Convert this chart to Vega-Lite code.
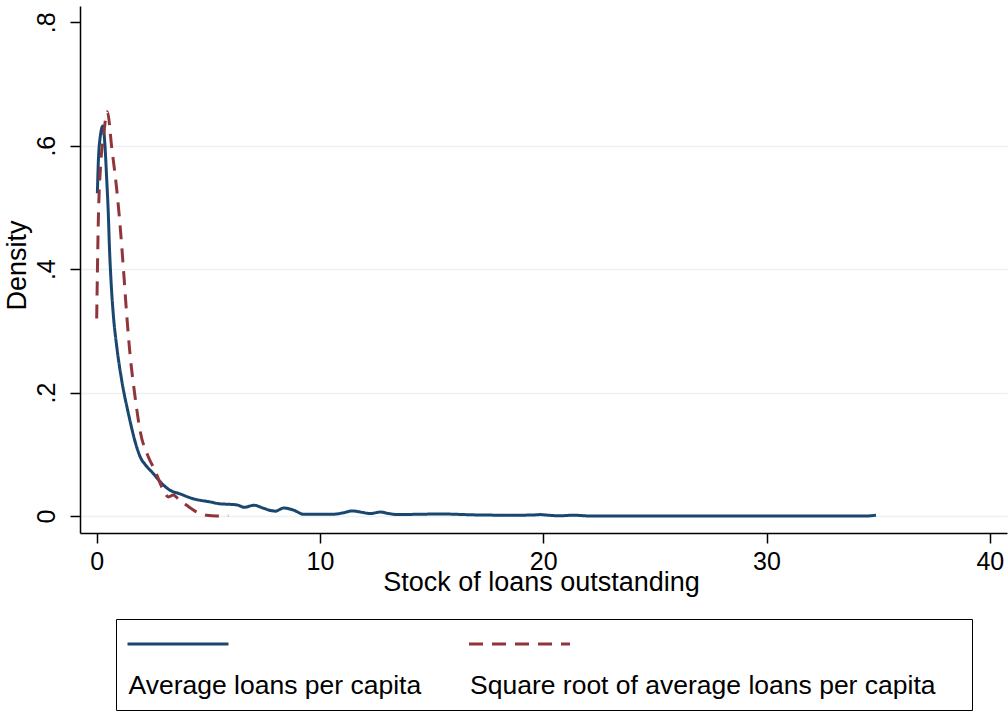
{
  "$schema": "https://vega.github.io/schema/vega-lite/v6.json",
  "width": 927,
  "height": 527,
  "autosize": {"type": "none"},
  "padding": {"left": 80, "top": 6, "right": 1, "bottom": 180},
  "background": "white",
  "config": {
    "font": "Liberation Sans",
    "view": {"stroke": null},
    "axis": {
      "domainColor": "black",
      "domainWidth": 1.5,
      "tickColor": "black",
      "tickWidth": 1.5,
      "tickSize": 10,
      "labelColor": "black",
      "labelFont": "Liberation Sans",
      "labelFontSize": 25,
      "labelFlush": false,
      "labelOverlap": false,
      "labelBound": false,
      "titleColor": "black",
      "titleFont": "Liberation Sans",
      "titleFontSize": 27,
      "titleFontWeight": "normal"
    }
  },
  "data": {
    "values": [
      {"series": "Average loans per capita", "x": 0.03, "y": 0.523},
      {"series": "Average loans per capita", "x": 0.07, "y": 0.571},
      {"series": "Average loans per capita", "x": 0.15, "y": 0.612},
      {"series": "Average loans per capita", "x": 0.28, "y": 0.632},
      {"series": "Average loans per capita", "x": 0.37, "y": 0.6},
      {"series": "Average loans per capita", "x": 0.45, "y": 0.544},
      {"series": "Average loans per capita", "x": 0.52, "y": 0.49},
      {"series": "Average loans per capita", "x": 0.57, "y": 0.436},
      {"series": "Average loans per capita", "x": 0.64, "y": 0.382},
      {"series": "Average loans per capita", "x": 0.74, "y": 0.328},
      {"series": "Average loans per capita", "x": 0.9, "y": 0.274},
      {"series": "Average loans per capita", "x": 1.12, "y": 0.22},
      {"series": "Average loans per capita", "x": 1.42, "y": 0.166},
      {"series": "Average loans per capita", "x": 1.79, "y": 0.112},
      {"series": "Average loans per capita", "x": 2.0, "y": 0.092},
      {"series": "Average loans per capita", "x": 2.16, "y": 0.084},
      {"series": "Average loans per capita", "x": 2.53, "y": 0.069},
      {"series": "Average loans per capita", "x": 2.91, "y": 0.053},
      {"series": "Average loans per capita", "x": 3.28, "y": 0.042},
      {"series": "Average loans per capita", "x": 3.73, "y": 0.036},
      {"series": "Average loans per capita", "x": 4.33, "y": 0.028},
      {"series": "Average loans per capita", "x": 5.07, "y": 0.023},
      {"series": "Average loans per capita", "x": 5.5, "y": 0.02},
      {"series": "Average loans per capita", "x": 5.97, "y": 0.019},
      {"series": "Average loans per capita", "x": 6.3, "y": 0.018},
      {"series": "Average loans per capita", "x": 6.6, "y": 0.0143},
      {"series": "Average loans per capita", "x": 7.05, "y": 0.0175},
      {"series": "Average loans per capita", "x": 7.45, "y": 0.013},
      {"series": "Average loans per capita", "x": 7.8, "y": 0.009},
      {"series": "Average loans per capita", "x": 8.0, "y": 0.008},
      {"series": "Average loans per capita", "x": 8.37, "y": 0.013},
      {"series": "Average loans per capita", "x": 8.82, "y": 0.0096},
      {"series": "Average loans per capita", "x": 9.27, "y": 0.003},
      {"series": "Average loans per capita", "x": 10.0, "y": 0.003},
      {"series": "Average loans per capita", "x": 10.6, "y": 0.003},
      {"series": "Average loans per capita", "x": 11.0, "y": 0.005},
      {"series": "Average loans per capita", "x": 11.45, "y": 0.0083},
      {"series": "Average loans per capita", "x": 11.9, "y": 0.006},
      {"series": "Average loans per capita", "x": 12.25, "y": 0.004},
      {"series": "Average loans per capita", "x": 12.7, "y": 0.0065},
      {"series": "Average loans per capita", "x": 13.1, "y": 0.004},
      {"series": "Average loans per capita", "x": 13.47, "y": 0.0024},
      {"series": "Average loans per capita", "x": 14.5, "y": 0.003},
      {"series": "Average loans per capita", "x": 15.5, "y": 0.0034},
      {"series": "Average loans per capita", "x": 16.5, "y": 0.0024},
      {"series": "Average loans per capita", "x": 17.45, "y": 0.0016},
      {"series": "Average loans per capita", "x": 18.5, "y": 0.0015},
      {"series": "Average loans per capita", "x": 19.5, "y": 0.0016},
      {"series": "Average loans per capita", "x": 19.85, "y": 0.0024},
      {"series": "Average loans per capita", "x": 20.3, "y": 0.0012},
      {"series": "Average loans per capita", "x": 20.75, "y": 0.0005},
      {"series": "Average loans per capita", "x": 21.35, "y": 0.0014},
      {"series": "Average loans per capita", "x": 22.2, "y": 0.0},
      {"series": "Average loans per capita", "x": 25.0, "y": 0.0},
      {"series": "Average loans per capita", "x": 30.0, "y": 0.0},
      {"series": "Average loans per capita", "x": 34.4, "y": 0.0},
      {"series": "Average loans per capita", "x": 34.9, "y": 0.0014},
      {"series": "Square root of average loans per capita", "x": 0.0, "y": 0.32},
      {"series": "Square root of average loans per capita", "x": 0.07, "y": 0.474},
      {"series": "Square root of average loans per capita", "x": 0.18, "y": 0.571},
      {"series": "Square root of average loans per capita", "x": 0.3, "y": 0.614},
      {"series": "Square root of average loans per capita", "x": 0.48, "y": 0.655},
      {"series": "Square root of average loans per capita", "x": 0.67, "y": 0.598},
      {"series": "Square root of average loans per capita", "x": 0.9, "y": 0.528},
      {"series": "Square root of average loans per capita", "x": 1.04, "y": 0.474},
      {"series": "Square root of average loans per capita", "x": 1.19, "y": 0.404},
      {"series": "Square root of average loans per capita", "x": 1.34, "y": 0.328},
      {"series": "Square root of average loans per capita", "x": 1.49, "y": 0.263},
      {"series": "Square root of average loans per capita", "x": 1.72, "y": 0.193},
      {"series": "Square root of average loans per capita", "x": 1.94, "y": 0.139},
      {"series": "Square root of average loans per capita", "x": 2.31, "y": 0.096},
      {"series": "Square root of average loans per capita", "x": 2.61, "y": 0.074},
      {"series": "Square root of average loans per capita", "x": 2.98, "y": 0.042},
      {"series": "Square root of average loans per capita", "x": 3.21, "y": 0.031},
      {"series": "Square root of average loans per capita", "x": 3.43, "y": 0.034},
      {"series": "Square root of average loans per capita", "x": 3.65, "y": 0.028},
      {"series": "Square root of average loans per capita", "x": 4.03, "y": 0.0175},
      {"series": "Square root of average loans per capita", "x": 4.48, "y": 0.0066},
      {"series": "Square root of average loans per capita", "x": 4.93, "y": 0.0013},
      {"series": "Square root of average loans per capita", "x": 5.37, "y": 0.0},
      {"series": "Square root of average loans per capita", "x": 5.89, "y": 0.001}
    ]
  },
  "mark": {"type": "line", "strokeWidth": 3, "interpolate": "monotone"},
  "encoding": {
    "x": {
      "field": "x",
      "type": "quantitative",
      "title": "Stock of loans outstanding",
      "scale": {"domain": [-0.748, 40.77], "nice": false, "zero": false},
      "axis": {
        "values": [0, 10, 20, 30, 40],
        "format": "d",
        "grid": false,
        "labelPadding": 6,
        "labelBaseline": "top",
        "titleY": 57,
        "titleX": 461,
        "titleAlign": "center",
        "titleBaseline": "alphabetic"
      }
    },
    "y": {
      "field": "y",
      "type": "quantitative",
      "title": "Density",
      "scale": {"domain": [-0.0274, 0.8263], "nice": false, "zero": false},
      "axis": {
        "values": [0, 0.2, 0.4, 0.6, 0.8],
        "labelExpr": "datum.value == 0 ? '0' : substring(format(datum.value, '.1f'), 1)",
        "labelAngle": -90,
        "labelAlign": "center",
        "labelBaseline": "alphabetic",
        "labelPadding": 16,
        "grid": true,
        "gridColor": {"condition": {"test": "datum.value > 0.7", "value": "transparent"}, "value": "#eaf2f3"},
        "gridWidth": 1.5,
        "titleAngle": -90,
        "titleX": -55,
        "titleY": 259,
        "titleAlign": "center",
        "titleBaseline": "alphabetic"
      }
    },
    "color": {
      "field": "series",
      "type": "nominal",
      "title": null,
      "scale": {
        "domain": ["Average loans per capita", "Square root of average loans per capita"],
        "range": ["#1a476f", "#90353b"]
      },
      "legend": {
        "orient": "none",
        "legendX": 36,
        "legendY": 613,
        "direction": "horizontal",
        "columns": 2,
        "columnPadding": 40.5,
        "padding": 10,
        "strokeColor": "black",
        "symbolType": "M-1,-0.6087L1.9275,-0.6087",
        "symbolSize": 4761,
        "symbolStrokeWidth": 3,
        "labelOffset": -69.5,
        "labelBaseline": "alphabetic",
        "labelFont": "Liberation Sans",
        "labelFontSize": 26.5,
        "labelColor": "black",
        "labelLimit": 2000,
        "encode": {
          "symbols": {"update": {"shape": {"signal": "datum.value == 'Square root of average loans per capita' ? 'M13.1,-0.6087M-1,-0.6087L1.9275,-0.6087' : 'M-1,-0.6087L1.9275,-0.6087'"}}},
          "labels": {"update": {"dy": {"value": 29.3}}}
        }
      }
    },
    "strokeDash": {
      "field": "series",
      "type": "nominal",
      "title": null,
      "scale": {
        "domain": ["Average loans per capita", "Square root of average loans per capita"],
        "range": [[1, 0], [14, 9]]
      },
      "legend": {
        "orient": "none",
        "legendX": 36,
        "legendY": 613,
        "direction": "horizontal",
        "columns": 2,
        "columnPadding": 40.5,
        "padding": 10,
        "strokeColor": "black",
        "symbolType": "M-1,-0.6087L1.9275,-0.6087",
        "symbolSize": 4761,
        "symbolStrokeWidth": 3,
        "labelOffset": -69.5,
        "labelBaseline": "alphabetic",
        "labelFont": "Liberation Sans",
        "labelFontSize": 26.5,
        "labelColor": "black",
        "labelLimit": 2000,
        "encode": {
          "symbols": {"update": {"shape": {"signal": "datum.value == 'Square root of average loans per capita' ? 'M13.1,-0.6087M-1,-0.6087L1.9275,-0.6087' : 'M-1,-0.6087L1.9275,-0.6087'"}}},
          "labels": {"update": {"dy": {"value": 29.3}}}
        }
      }
    }
  }
}
